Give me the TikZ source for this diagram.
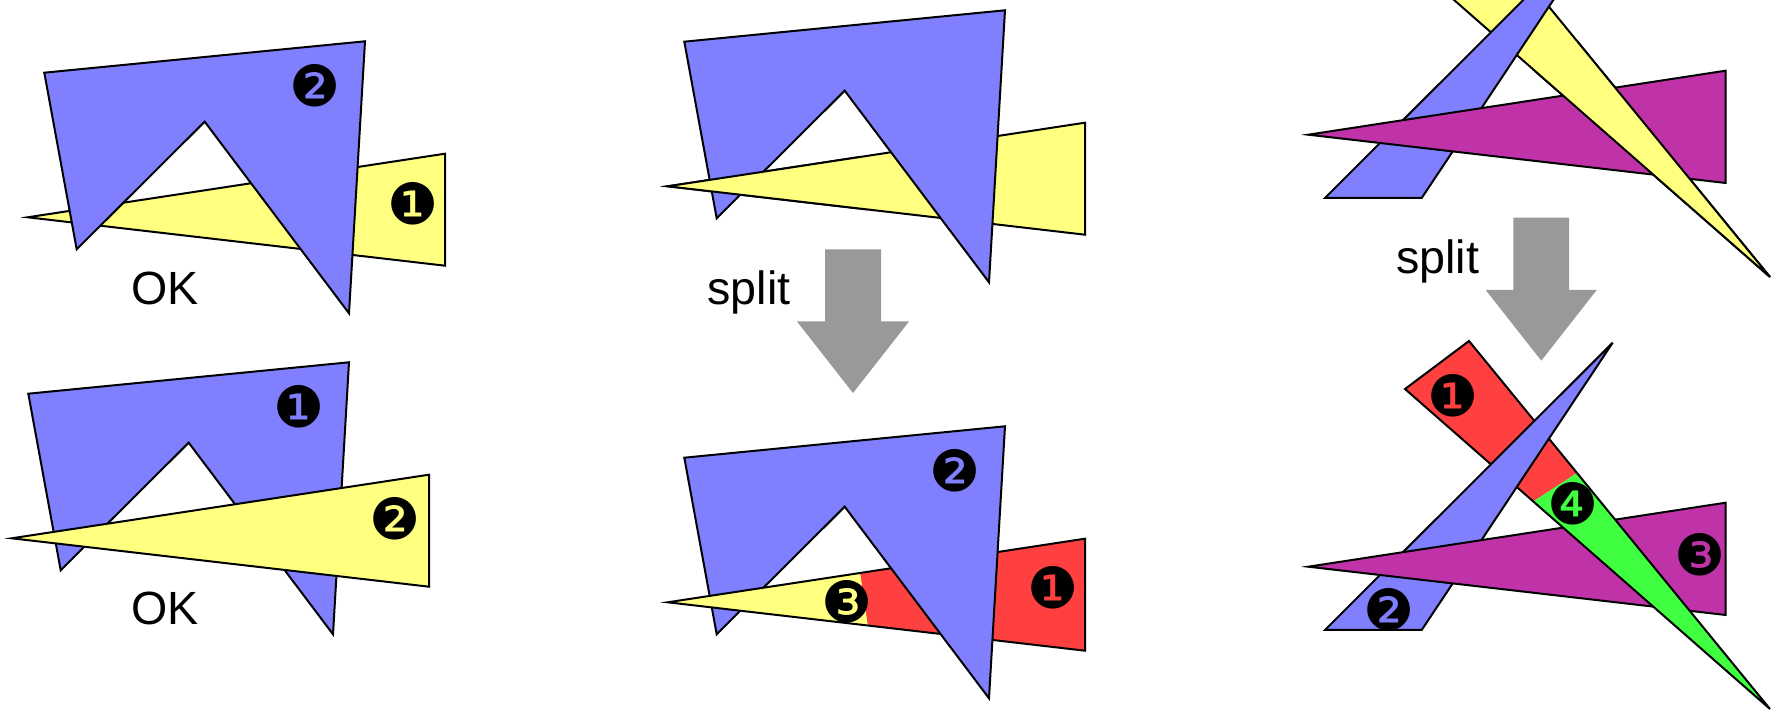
\documentclass[tikz,border=0pt]{standalone}
\usepackage{fontspec}
\newfontfamily\wordfont{Liberation Sans}
\newfontfamily\dingfont{DejaVu Sans}
\definecolor{polyblue}{HTML}{8080FF}
\definecolor{polyyellow}{HTML}{FFFF80}
\definecolor{polyred}{HTML}{FF4040}
\definecolor{polygreen}{HTML}{40FF40}
\definecolor{polymagenta}{HTML}{C033A8}
\definecolor{arrowgray}{HTML}{999999}

\begin{document}
\begin{tikzpicture}[x=.5pt,y=-.5pt,
  poly/.style={draw=black,line width=1pt},
  numlbl/.style={font=\dingfont\fontsize{28.5}{28.5}\selectfont,inner sep=0pt},
  word/.style={font=\wordfont\fontsize{23.3}{28}\selectfont,anchor=base,inner sep=0pt}]
\useasboundingbox (0,0) rectangle (1774,710);
\clip (0,0) rectangle (1774,710);
% left, top: yellow below blue
\path[poly,fill=polyyellow] (27.7,217.3) -- (445,153.7) -- (445,265.7) -- cycle;
\path[poly,fill=polyblue] (44.3,72.7) -- (365,41.3) -- (349,313.3) -- (204.7,121.7) -- (76.7,249.3) -- cycle;
\node[numlbl] (tlb) at (314.7,86) {❷};
\node[numlbl] (tly) at (412.7,203.3) {❶};
\node[word] (oka) at (165.3,305) {OK};
% left, bottom: yellow above blue
\path[poly,fill=polyblue] (28.3,393.7) -- (349,362.3) -- (333,634.3) -- (188.7,442.7) -- (60.7,570.3) -- cycle;
\path[poly,fill=polyyellow] (11.7,538.3) -- (429,474.7) -- (429,586.7) -- cycle;
\node[numlbl] (blb) at (298.7,407) {❶};
\node[numlbl] (bly) at (394.7,518.3) {❷};
\node[word] (okb) at (165.3,625) {OK};
% middle, top: cyclic overlap
\path[poly,fill=polyyellow] (667.7,186.3) -- (1085,122.7) -- (1085,234.7) -- cycle;
\path[poly,fill=polyblue] (684.3,41.7) -- (1005,10.3) -- (989,282.3) -- (844.7,90.7) -- (716.7,218.3) -- cycle;
\path[poly,fill=polyyellow] (860,157) -- (667.7,186.3) -- (867.7,209.5);
% middle arrow
\path[fill=arrowgray] (825,249.5) -- (881,249.5) -- (881,321.5) -- (909,321.5) -- (853,393) -- (797,321.5) -- (825,321.5) -- cycle;
\node[word] (splita) at (749,305) {split};
% middle, bottom: after split
\path[poly,fill=polyred] (867.7,625.5) -- (1085,650.7) -- (1085,538.7) -- (860,573);
\path[poly,fill=polyblue] (684.3,457.7) -- (1005,426.3) -- (989,698.3) -- (844.7,506.7) -- (716.7,634.3) -- cycle;
\path[poly,fill=polyyellow] (860,573) -- (667.7,602.3) -- (867.7,625.5);
\node[numlbl] (bmb) at (955,470.7) {❷};
\node[numlbl] (bmr) at (1052.7,587.3) {❶};
\node[numlbl] (bmy) at (846.7,601.7) {❸};
% right, top: three-way cycle
\path[poly,fill=polyyellow] (1405,-43) -- (1469,-91) -- (1770,277) -- cycle;
\path[poly,fill=polyblue] (1325,198) -- (1421.7,198) -- (1612.7,-89.3) -- cycle;
\path[poly,fill=polymagenta] (1308.3,134.7) -- (1725.7,70.7) -- (1725.7,183) -- cycle;
\path[poly,fill=polyyellow] (1577,41) -- (1770,277) -- (1533.3,69.5);
% right arrow
\path[fill=arrowgray] (1513.3,217.7) -- (1569,217.7) -- (1569,290) -- (1596.7,290) -- (1541.3,360.7) -- (1485.7,290) -- (1513.3,290) -- cycle;
\node[word] (splitb) at (1437.7,273.3) {split};
% right, bottom: after split
\path[poly,fill=polyred] (1533.3,501.5) -- (1405,389) -- (1469,341) -- (1577,473);
\path[poly,fill=polyblue] (1325,630) -- (1421.7,630) -- (1612.7,342.7) -- cycle;
\path[poly,fill=polymagenta] (1308.3,566.7) -- (1725.7,502.7) -- (1725.7,615) -- cycle;
\path[poly,fill=polygreen] (1577,473) -- (1770,709) -- (1533.3,501.5);
\node[numlbl] (brr) at (1452.7,395.7) {❶};
\node[numlbl] (brb) at (1389,609.3) {❷};
\node[numlbl] (brm) at (1700,555) {❸};
\node[numlbl] (brg) at (1572.7,503.3) {❹};
\end{tikzpicture}
\end{document}
